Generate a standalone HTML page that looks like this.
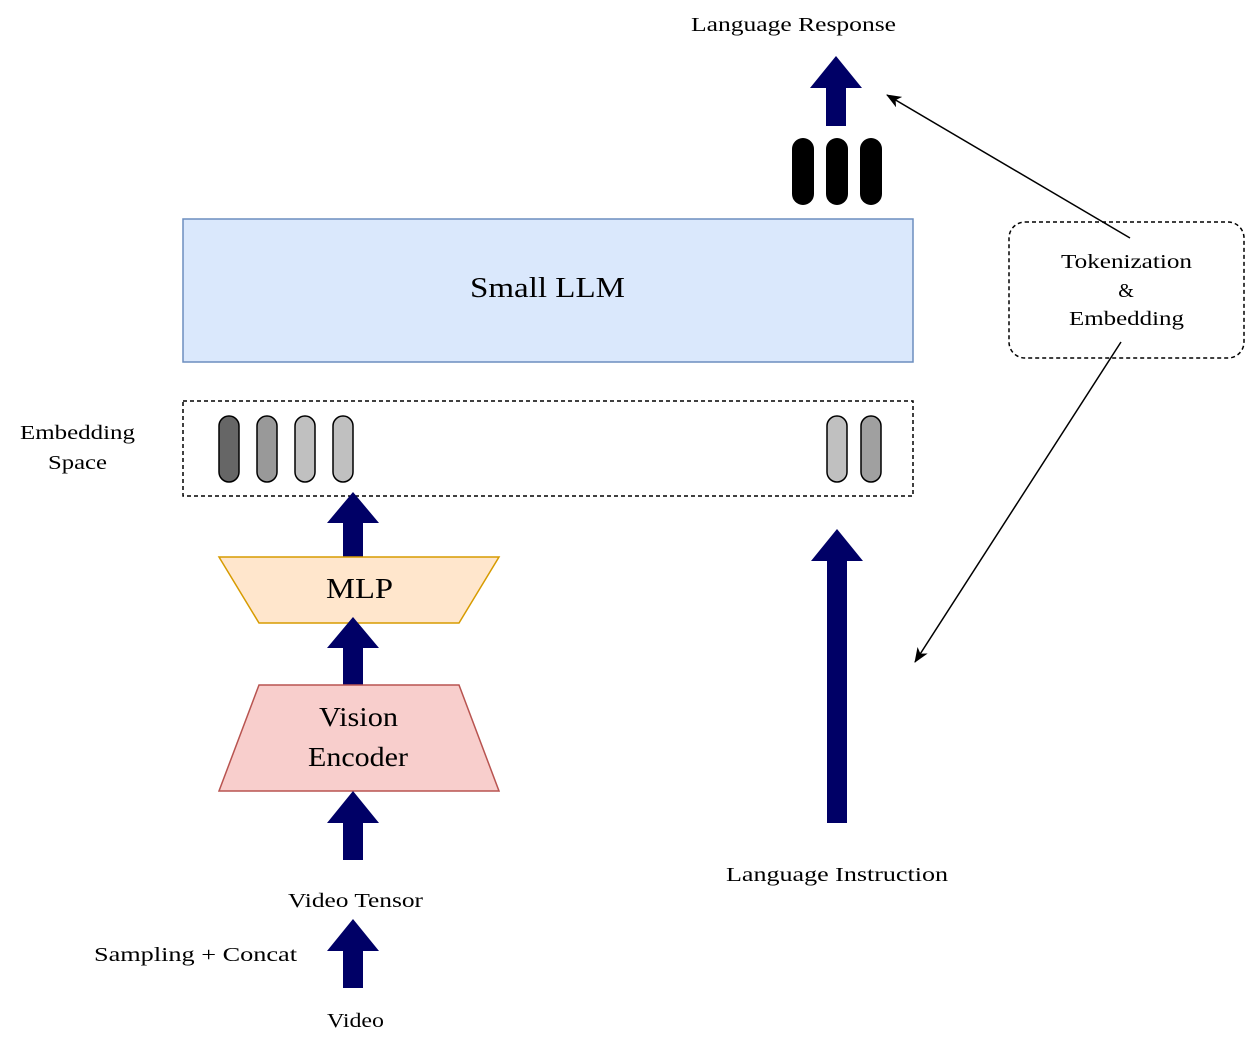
<!DOCTYPE html>
<html><head><meta charset="utf-8"><style>
html,body{margin:0;padding:0;background:#fff;}
svg{display:block;}
text{font-family:"Liberation Serif",serif;fill:#000;}
</style></head><body>
<svg width="1246" height="1046" viewBox="0 0 1246 1046" xmlns="http://www.w3.org/2000/svg">
<defs>
<marker id="ah" markerWidth="16" markerHeight="12" refX="14" refY="6" orient="auto" markerUnits="userSpaceOnUse">
<path d="M0,0 L15,6 L0,12 L4,6 Z" fill="#000"/>
</marker>
</defs>
<text x="691" y="31" font-size="20" textLength="205" lengthAdjust="spacingAndGlyphs">Language Response</text>
<path d="M826,126 V88 H810 L836,56 L862,88 H846 V126 Z" fill="#000066"/>
<rect x="792" y="138" width="22" height="67" rx="11" fill="#000"/>
<rect x="826" y="138" width="22" height="67" rx="11" fill="#000"/>
<rect x="860" y="138" width="22" height="67" rx="11" fill="#000"/>
<rect x="183" y="219" width="730" height="143" fill="#dae8fc" stroke="#6c8ebf" stroke-width="1.5"/>
<text x="470" y="297" font-size="28" textLength="155" lengthAdjust="spacingAndGlyphs">Small LLM</text>
<rect x="1009" y="222" width="235" height="136" rx="16" fill="none" stroke="#000" stroke-width="1.5" stroke-dasharray="4,3"/>
<text x="1061" y="268" font-size="20" textLength="131" lengthAdjust="spacingAndGlyphs">Tokenization</text>
<text x="1126" y="297" font-size="20" text-anchor="middle">&amp;</text>
<text x="1069" y="325" font-size="20" textLength="115" lengthAdjust="spacingAndGlyphs">Embedding</text>
<line x1="1130" y1="238" x2="887" y2="95" stroke="#000" stroke-width="1.5" marker-end="url(#ah)"/>
<line x1="1121" y1="342" x2="915" y2="662" stroke="#000" stroke-width="1.5" marker-end="url(#ah)"/>
<rect x="183" y="401" width="730" height="95" fill="none" stroke="#000" stroke-width="1.5" stroke-dasharray="4,3"/>
<rect x="219" y="416" width="20" height="66" rx="10" fill="#666" stroke="#000" stroke-width="1.5"/>
<rect x="257" y="416" width="20" height="66" rx="10" fill="#999" stroke="#000" stroke-width="1.5"/>
<rect x="295" y="416" width="20" height="66" rx="10" fill="#c0c0c0" stroke="#000" stroke-width="1.5"/>
<rect x="333" y="416" width="20" height="66" rx="10" fill="#c0c0c0" stroke="#000" stroke-width="1.5"/>
<rect x="827" y="416" width="20" height="66" rx="10" fill="#c0c0c0" stroke="#000" stroke-width="1.5"/>
<rect x="861" y="416" width="20" height="66" rx="10" fill="#a0a0a0" stroke="#000" stroke-width="1.5"/>
<text x="20" y="439" font-size="20" textLength="115" lengthAdjust="spacingAndGlyphs">Embedding</text>
<text x="48" y="469" font-size="20" textLength="59" lengthAdjust="spacingAndGlyphs">Space</text>
<path d="M343,561 V523 H327 L353,492 L379,523 H363 V561 Z" fill="#000066"/>
<polygon points="219,557 499,557 459,623 259,623" fill="#ffe6cc" stroke="#d79b00" stroke-width="1.5"/>
<text x="326" y="598" font-size="28" textLength="67" lengthAdjust="spacingAndGlyphs">MLP</text>
<path d="M343,685 V648 H327 L353,617 L379,648 H363 V685 Z" fill="#000066"/>
<polygon points="259,685 459,685 499,791 219,791" fill="#f8cecc" stroke="#b85450" stroke-width="1.5"/>
<text x="319" y="726" font-size="27" textLength="79" lengthAdjust="spacingAndGlyphs">Vision</text>
<text x="308" y="766" font-size="27" textLength="100" lengthAdjust="spacingAndGlyphs">Encoder</text>
<path d="M343,860 V823 H327 L353,791 L379,823 H363 V860 Z" fill="#000066"/>
<text x="288" y="907" font-size="20" textLength="135" lengthAdjust="spacingAndGlyphs">Video Tensor</text>
<path d="M343,988 V951 H327 L353,919 L379,951 H363 V988 Z" fill="#000066"/>
<text x="94" y="961" font-size="20" textLength="203" lengthAdjust="spacingAndGlyphs">Sampling + Concat</text>
<text x="327" y="1027" font-size="20" textLength="57" lengthAdjust="spacingAndGlyphs">Video</text>
<path d="M827,823 V561 H811 L837,529 L863,561 H847 V823 Z" fill="#000066"/>
<text x="726" y="881" font-size="20" textLength="222" lengthAdjust="spacingAndGlyphs">Language Instruction</text>
</svg>
</body></html>
